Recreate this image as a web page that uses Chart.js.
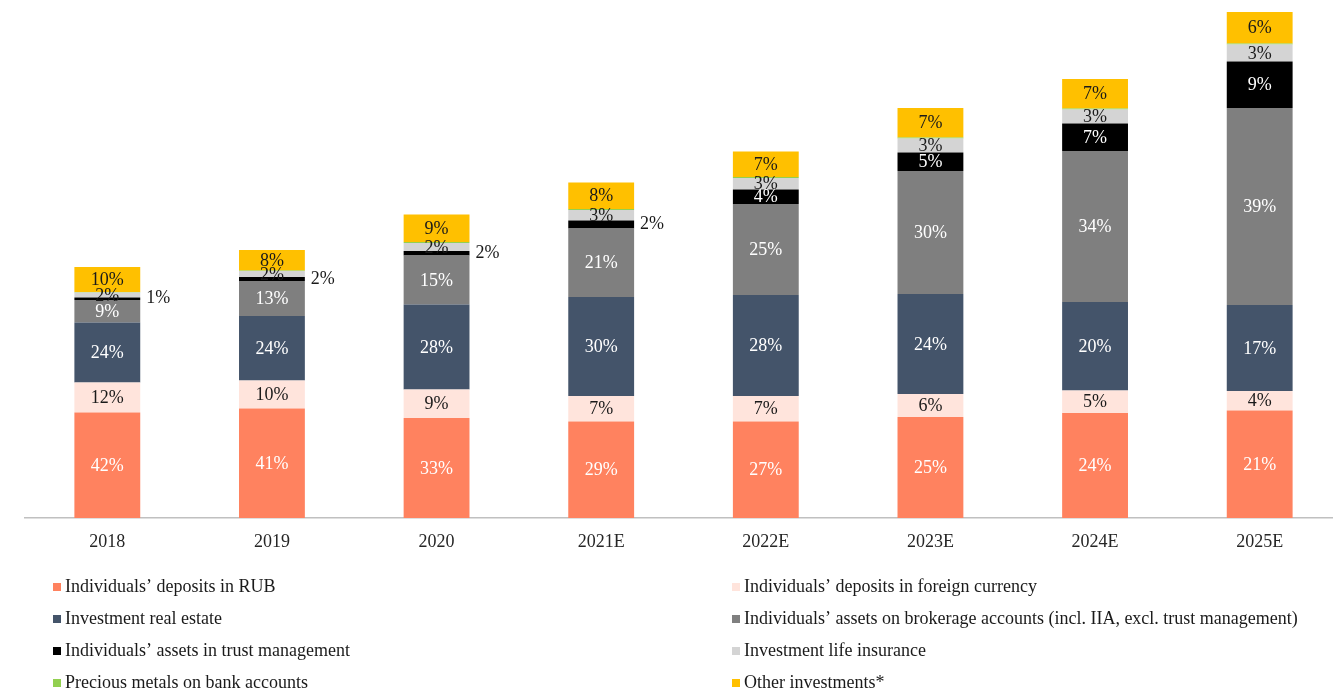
<!DOCTYPE html>
<html>
<head>
<meta charset="utf-8">
<script src="https://cdn.jsdelivr.net/npm/chart.js@4"></script>
<style>
html,body{margin:0;padding:0;background:#fff;overflow:hidden;}
canvas{display:block;}
</style>
</head>
<body>
<canvas id="c" width="1345" height="691"></canvas>
<script>
// Categories
const years = ['2018','2019','2020','2021E','2022E','2023E','2024E','2025E'];

// Series values (absolute sizes, arbitrary units)
const depositsRUB      = [21.1, 21.9, 20.0, 19.3, 19.3, 20.2, 21.0, 21.5];
const depositsForeign  = [6.0, 5.6, 5.7, 5.1, 5.1, 4.6, 4.5, 3.9];
const realEstate       = [12.0, 12.9, 17.0, 19.8, 20.2, 20.0, 17.7, 17.2];
const brokerage        = [4.5, 7.0, 9.8, 13.7, 18.2, 24.6, 30.2, 39.4];
const trustManagement  = [0.5, 0.8, 0.9, 1.6, 2.9, 3.7, 5.5, 9.3];
const lifeInsurance    = [1.0, 1.2, 1.6, 2.1, 2.3, 2.8, 2.8, 3.4];
const preciousMetals   = [0.1, 0.1, 0.2, 0.2, 0.2, 0.2, 0.2, 0.2];
const otherInvestments = [5.0, 4.1, 5.5, 5.3, 5.1, 5.9, 5.9, 6.3];

// Share labels shown on the bars
const lblRUB       = ['42%','41%','33%','29%','27%','25%','24%','21%'];
const lblForeign   = ['12%','10%','9%','7%','7%','6%','5%','4%'];
const lblRealEst   = ['24%','24%','28%','30%','28%','24%','20%','17%'];
const lblBrokerage = ['9%','13%','15%','21%','25%','30%','34%','39%'];
const lblTrust     = ['1%','2%','2%','2%','4%','5%','7%','9%'];
const lblInsurance = ['2%','2%','2%','3%','3%','3%','3%','3%'];
const lblMetals    = ['','','','','','','',''];
const lblOther     = ['10%','8%','9%','8%','7%','7%','7%','6%'];

const seriesNames = [
  'Individuals\u2019 deposits in RUB',
  'Individuals\u2019 deposits in foreign currency',
  'Investment real estate',
  'Individuals\u2019 assets on brokerage accounts (incl. IIA, excl. trust management)',
  'Individuals\u2019 assets in trust management',
  'Investment life insurance',
  'Precious metals on bank accounts',
  'Other investments*'
];

const colors = ['#FF825F','#FFE4DC','#44546A','#7F7F7F','#000000','#D4D4D4','#92D050','#FFC000'];
const labelColors = ['#ffffff','#1a1a1a','#ffffff','#ffffff','#ffffff','#1a1a1a','#1a1a1a','#1a1a1a'];
const allValues = [depositsRUB, depositsForeign, realEstate, brokerage, trustManagement, lifeInsurance, preciousMetals, otherInvestments];
const allLabels = [lblRUB, lblForeign, lblRealEst, lblBrokerage, lblTrust, lblInsurance, lblMetals, lblOther];

const FONT = '"Liberation Serif", "Times New Roman", serif';

const datasets = allValues.map((vals, i) => ({
  label: seriesNames[i],
  data: vals,
  backgroundColor: colors[i],
  borderWidth: 0,
  barPercentage: 0.4,
  categoryPercentage: 1.0
}));

const dataLabelPlugin = {
  id: 'dataLabels',
  afterDatasetsDraw(chart) {
    const ctx = chart.ctx;
    ctx.save();
    ctx.font = '18px ' + FONT;
    ctx.textBaseline = 'middle';
    chart.data.datasets.forEach((ds, di) => {
      const meta = chart.getDatasetMeta(di);
      meta.data.forEach((bar, j) => {
        const txt = allLabels[di][j];
        if (!txt) return;
        const props = bar.getProps(['x','y','base','width'], true);
        const cy = (props.y + props.base) / 2;
        if (di === 4 && j < 4) {
          ctx.fillStyle = '#1a1a1a';
          ctx.textAlign = 'left';
          ctx.fillText(txt, props.x + props.width / 2 + 6, cy);
        } else {
          ctx.fillStyle = labelColors[di];
          ctx.textAlign = 'center';
          ctx.fillText(txt, props.x, cy + 1);
        }
      });
    });
    ctx.restore();
  }
};

const legendPlugin = {
  id: 'twoColLegend',
  afterDraw(chart) {
    const ctx = chart.ctx;
    ctx.save();
    ctx.font = '18px ' + FONT;
    ctx.textBaseline = 'middle';
    ctx.textAlign = 'left';
    const rowsY = [587, 619, 651, 683];
    const colsX = [53, 732];
    chart.data.datasets.forEach((ds, i) => {
      const col = i % 2, row = Math.floor(i / 2);
      const x = colsX[col], y = rowsY[row];
      ctx.fillStyle = ds.backgroundColor;
      ctx.fillRect(x, y - 4, 8, 8);
      ctx.fillStyle = '#1a1a1a';
      ctx.fillText(ds.label, x + 12, y);
    });
    ctx.restore();
  }
};

new Chart(document.getElementById('c'), {
  type: 'bar',
  data: { labels: years, datasets },
  options: {
    responsive: false,
    devicePixelRatio: 1,
    animation: false,
    layout: { padding: { left: 25, right: 3, top: 8, bottom: 0 } },
    plugins: { legend: { display: false }, tooltip: { enabled: false } },
    scales: {
      x: {
        stacked: true,
        grid: { display: false, drawTicks: false },
        border: { display: true, color: '#c0c0c0', width: 1.5 },
        ticks: { color: '#262626', font: { family: FONT, size: 18 }, padding: 13 },
        afterFit(scale) { scale.height = 173; }
      },
      y: {
        stacked: true,
        display: false,
        min: 0,
        max: 102
      }
    }
  },
  plugins: [dataLabelPlugin, legendPlugin]
});
</script>
</body>
</html>
